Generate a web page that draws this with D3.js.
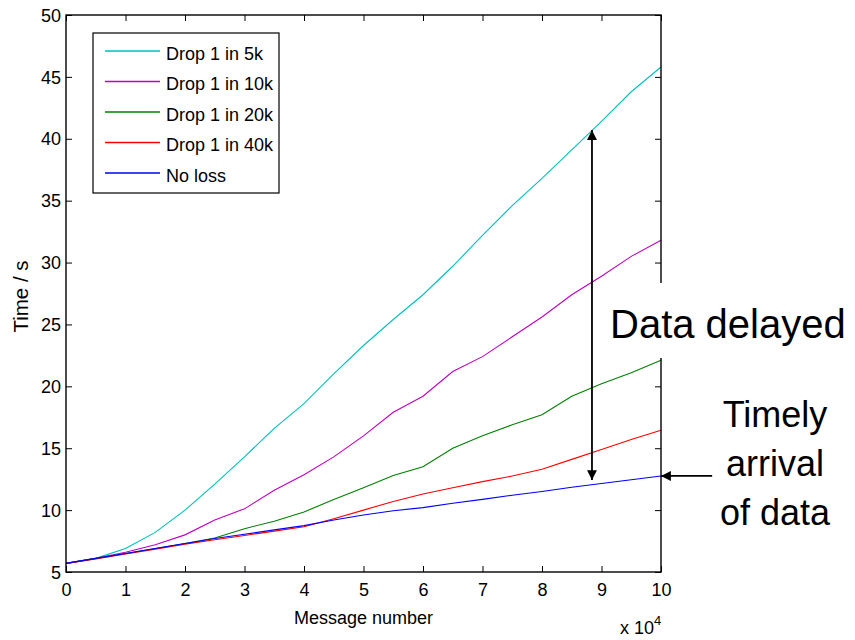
<!DOCTYPE html>
<html>
<head>
<meta charset="utf-8">
<script src="https://cdn.jsdelivr.net/npm/d3@7"></script>
<style>
  html, body { margin: 0; padding: 0; background: #fff; }
  svg { display: block; font-family: "Liberation Sans", Arial, sans-serif; }
</style>
</head>
<body>
<svg id="chart" width="855" height="640"></svg>
<script>
// ---- data (message number in units of 10^4, time in seconds) ----
const msgX = [0,0.5,1,1.5,2,2.5,3,3.5,4,4.5,5,5.5,6,6.5,7,7.5,8,8.5,9,9.5,10];
const drop5k  = [5.7,6.1,6.9,8.2,10.0,12.1,14.3,16.6,18.6,21.0,23.3,25.4,27.4,29.7,32.2,34.6,36.8,39.1,41.4,43.8,45.8];
const drop10k = [5.7,6.1,6.6,7.2,8.0,9.2,10.1,11.6,12.85,14.3,16.0,17.9,19.2,21.2,22.4,24.0,25.6,27.4,28.9,30.5,31.8];
const drop20k = [5.7,6.1,6.5,6.9,7.3,7.75,8.5,9.1,9.85,10.85,11.8,12.8,13.5,15.0,16.0,16.9,17.7,19.2,20.2,21.1,22.1];
const drop40k = [5.7,6.05,6.45,6.85,7.25,7.6,7.95,8.3,8.65,9.3,10.0,10.7,11.3,11.8,12.3,12.75,13.3,14.1,14.9,15.7,16.45];
const noLoss  = [5.7,6.1,6.5,6.9,7.3,7.7,8.05,8.4,8.75,9.2,9.6,9.95,10.2,10.55,10.87,11.2,11.5,11.85,12.15,12.45,12.75];
const seriesNames = ["Drop 1 in 5k","Drop 1 in 10k","Drop 1 in 20k","Drop 1 in 40k","No loss"];
const seriesColors = ["#00BFBF","#BF00BF","#008000","#FF0000","#0000FF"];
const xTicks = [0,1,2,3,4,5,6,7,8,9,10];
const yTicks = [5,10,15,20,25,30,35,40,45,50];
const xLabel = "Message number";
const yLabel = "Time / s";
// annotation anchors in data units
const delayArrow = {x: 8.84, y0: 12.43, y1: 40.7};
const timelyArrow = {y: 12.76, x0: 10.86, x1: 10};

// ---- layout ----
const L = 66, R = 661, T = 15, B = 572;
const svg = d3.select("#chart");
const x = d3.scaleLinear().domain([0, 10]).range([L, R]);
const y = d3.scaleLinear().domain([5, 50]).range([B, T]);

const allSeries = [drop5k, drop10k, drop20k, drop40k, noLoss];

// lines
const line = d3.line().x((d, i) => x(msgX[i])).y(d => y(d));
allSeries.forEach((s, k) => {
  svg.append("path").datum(s)
    .attr("d", line)
    .attr("fill", "none")
    .attr("stroke", seriesColors[k])
    .attr("stroke-width", 1.1);
});

// axes
const fs = 18;
const gB = svg.append("g").attr("transform", `translate(0,${B})`)
  .call(d3.axisBottom(x).tickValues(xTicks).tickFormat(d3.format("d")).tickSizeInner(-6).tickSizeOuter(0).tickPadding(11));
const gT = svg.append("g").attr("transform", `translate(0,${T})`)
  .call(d3.axisTop(x).tickValues(xTicks).tickFormat("").tickSizeInner(-6).tickSizeOuter(0));
const gLft = svg.append("g").attr("transform", `translate(${L},0)`)
  .call(d3.axisLeft(y).tickValues(yTicks).tickFormat(d3.format("d")).tickSizeInner(-6).tickSizeOuter(0).tickPadding(5));
const gRt = svg.append("g").attr("transform", `translate(${R},0)`)
  .call(d3.axisRight(y).tickValues(yTicks).tickFormat("").tickSizeInner(-6).tickSizeOuter(0));
[gB, gT, gLft, gRt].forEach(g => {
  g.select(".domain").remove();
  g.selectAll(".tick line").attr("stroke", "#000").attr("stroke-width", 1);
  g.selectAll("text").attr("font-size", fs).attr("fill", "#000")
    .attr("font-family", '"Liberation Sans", Arial, sans-serif');
});
gLft.selectAll("text").attr("dy", "0.34em");

// box
svg.append("rect").attr("x", L).attr("y", T).attr("width", R - L).attr("height", B - T)
  .attr("fill", "none").attr("stroke", "#000").attr("stroke-width", 1.4);

// axis labels
svg.append("text").attr("x", (L + R) / 2).attr("y", 624).attr("text-anchor", "middle")
  .attr("font-size", 18).text(xLabel);
svg.append("text").attr("transform", `translate(28,${(T + B) / 2 + 3}) rotate(-90)`)
  .attr("text-anchor", "middle").attr("font-size", 20.5).text(yLabel);
const mult = svg.append("text").attr("x", 620).attr("y", 634).attr("font-size", 18);
mult.append("tspan").text("x 10");
mult.append("tspan").attr("font-size", 13).attr("dy", -9).text("4");

// legend
const lg = svg.append("g");
lg.append("rect").attr("x", 93).attr("y", 33).attr("width", 186).attr("height", 160)
  .attr("fill", "#fff").attr("stroke", "#000").attr("stroke-width", 1.2);
seriesNames.forEach((n, k) => {
  const ly = 51 + k * 30.5;
  lg.append("line").attr("x1", 105).attr("x2", 160).attr("y1", ly).attr("y2", ly)
    .attr("stroke", seriesColors[k]).attr("stroke-width", 1.3);
  lg.append("text").attr("x", 166).attr("y", ly + 8.5).attr("font-size", 18).text(n);
});

// arrowheads
const defs = svg.append("defs");
defs.append("marker").attr("id", "ah").attr("viewBox", "0 0 10 10")
  .attr("refX", 10).attr("refY", 5).attr("markerWidth", 6).attr("markerHeight", 5.5)
  .attr("orient", "auto-start-reverse").attr("markerUnits", "strokeWidth")
  .append("path").attr("d", "M0,0 L10,5 L0,10 Z").attr("fill", "#000");

// vertical double arrow
svg.append("line")
  .attr("x1", x(delayArrow.x)).attr("x2", x(delayArrow.x))
  .attr("y1", y(delayArrow.y0)).attr("y2", y(delayArrow.y1))
  .attr("stroke", "#000").attr("stroke-width", 1.8)
  .attr("marker-start", "url(#ah)").attr("marker-end", "url(#ah)");

// horizontal arrow
svg.append("line")
  .attr("x1", x(timelyArrow.x0)).attr("x2", x(timelyArrow.x1))
  .attr("y1", y(timelyArrow.y)).attr("y2", y(timelyArrow.y))
  .attr("stroke", "#000").attr("stroke-width", 1.8)
  .attr("marker-end", "url(#ah)");

// "Data delayed" label with white background
const ddBg = svg.append("rect").attr("fill", "#fff");
const dd = svg.append("text").attr("x", 610).attr("y", 338).attr("font-size", 40).text("Data delayed");
const bb = dd.node().getBBox();
ddBg.attr("x", bb.x - 5).attr("y", 283).attr("width", bb.width + 8).attr("height", 75);

// "Timely arrival of data"
["Timely", "arrival", "of data"].forEach((t, i) => {
  svg.append("text").attr("x", 775).attr("y", 427 + i * 49).attr("text-anchor", "middle")
    .attr("font-size", 36).text(t);
});
</script>
</body>
</html>
